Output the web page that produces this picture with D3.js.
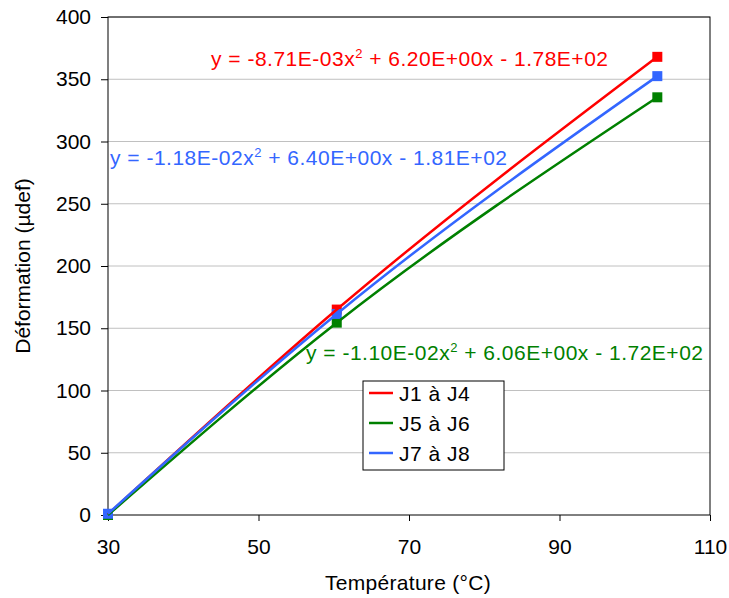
<!DOCTYPE html>
<html><head><meta charset="utf-8">
<script src="https://cdn.jsdelivr.net/npm/d3@7"></script>
<style>body{margin:0;background:#fff}text{font-family:"Liberation Sans",Arial,sans-serif}</style>
</head><body>
<svg id="c" width="729" height="598"></svg>
<script>
const temps = [30, 60.4, 103];
const seriesNames = ["J1 à J4", "J5 à J6", "J7 à J8"];
const serJ1J4 = [0.5, 165, 368];
const serJ5J6 = [0, 154.5, 335.5];
const serJ7J8 = [1, 161.5, 352.5];
const colors = ["#FF0000", "#008000", "#3366FF"];
const equations = [
  ["y = -8.71E-03x", " + 6.20E+00x - 1.78E+02"],
  ["y = -1.10E-02x", " + 6.06E+00x - 1.72E+02"],
  ["y = -1.18E-02x", " + 6.40E+00x - 1.81E+02"]
];
const xTicks = [30, 50, 70, 90, 110];
const yTicks = [0, 50, 100, 150, 200, 250, 300, 350, 400];

const FS = 21;
const svg = d3.select("#c");
const L = 108, R = 710, T = 17, B = 515;
const x = d3.scaleLinear().domain([30, 110]).range([L, R]);
const y = d3.scaleLinear().domain([0, 400]).range([B, T]);

// gridlines
svg.append("g").selectAll("line").data(yTicks.slice(1)).join("line")
  .attr("x1", L).attr("x2", R).attr("y1", d => y(d)).attr("y2", d => y(d))
  .attr("stroke", "#c0c0c0").attr("stroke-width", 1);
// border
svg.append("rect").attr("x", L).attr("y", T).attr("width", R - L).attr("height", B - T)
  .attr("fill", "none").attr("stroke", "#000").attr("stroke-width", 1);

const gx = svg.append("g").attr("transform", `translate(0,${B})`)
  .call(d3.axisBottom(x).tickValues(xTicks).tickSize(6).tickPadding(18).tickFormat(d3.format("d")));
const gy = svg.append("g").attr("transform", `translate(${L},0)`)
  .call(d3.axisLeft(y).tickValues(yTicks).tickSize(7).tickPadding(10).tickFormat(d3.format("d")));
[gx, gy].forEach(g => {
  g.selectAll("path,line").attr("stroke", "#000");
  g.selectAll("text").attr("font-size", FS).attr("fill", "#000")
    .style("font-family", '"Liberation Sans",Arial,sans-serif');
});
gx.select(".domain").remove();
gy.select(".domain").remove();

svg.append("text").attr("x", 408).attr("y", 590).attr("text-anchor", "middle")
  .attr("font-size", FS).attr("letter-spacing", 0.3).text("Température (°C)");
svg.append("text").attr("transform", "translate(30,266) rotate(-90)").attr("text-anchor", "middle")
  .attr("font-size", FS).text("Déformation (µdef)");

const allSeries = [serJ1J4, serJ5J6, serJ7J8];
// markers
allSeries.forEach((s, i) => {
  svg.append("g").selectAll("rect").data(s).join("rect")
    .attr("x", (d, j) => x(temps[j]) - 5).attr("y", d => y(d) - 5)
    .attr("width", 10).attr("height", 10).attr("fill", colors[i]);
});
// curves
const line = d3.line().x((d, j) => x(temps[j])).y(d => y(d)).curve(d3.curveMonotoneX);
allSeries.forEach((s, i) => {
  svg.append("path").attr("d", line(s)).attr("fill", "none")
    .attr("stroke", colors[i]).attr("stroke-width", 2.5);
});

// equations
const eqPos = [[211, 65.5], [306, 359.5], [110, 164.5]];
equations.forEach((e, i) => {
  const t = svg.append("text").attr("x", eqPos[i][0]).attr("y", eqPos[i][1])
    .attr("font-size", FS).attr("letter-spacing", 0.5).attr("fill", colors[i]);
  t.append("tspan").text(e[0]);
  t.append("tspan").attr("dy", -8).attr("font-size", 13).text("2");
  t.append("tspan").attr("dy", 8).text(e[1]);
});

// legend
const lg = svg.append("g");
lg.append("rect").attr("x", 363).attr("y", 381).attr("width", 141).attr("height", 89)
  .attr("fill", "#fff").attr("stroke", "#000").attr("stroke-width", 1);
seriesNames.forEach((n, i) => {
  const yy = 393 + i * 30;
  lg.append("line").attr("x1", 369).attr("x2", 393).attr("y1", yy).attr("y2", yy)
    .attr("stroke", colors[i]).attr("stroke-width", 2.5);
  lg.append("text").attr("x", 399).attr("y", yy + 8).attr("font-size", FS)
    .attr("letter-spacing", 0.5).text(n);
});
</script>
</body></html>
